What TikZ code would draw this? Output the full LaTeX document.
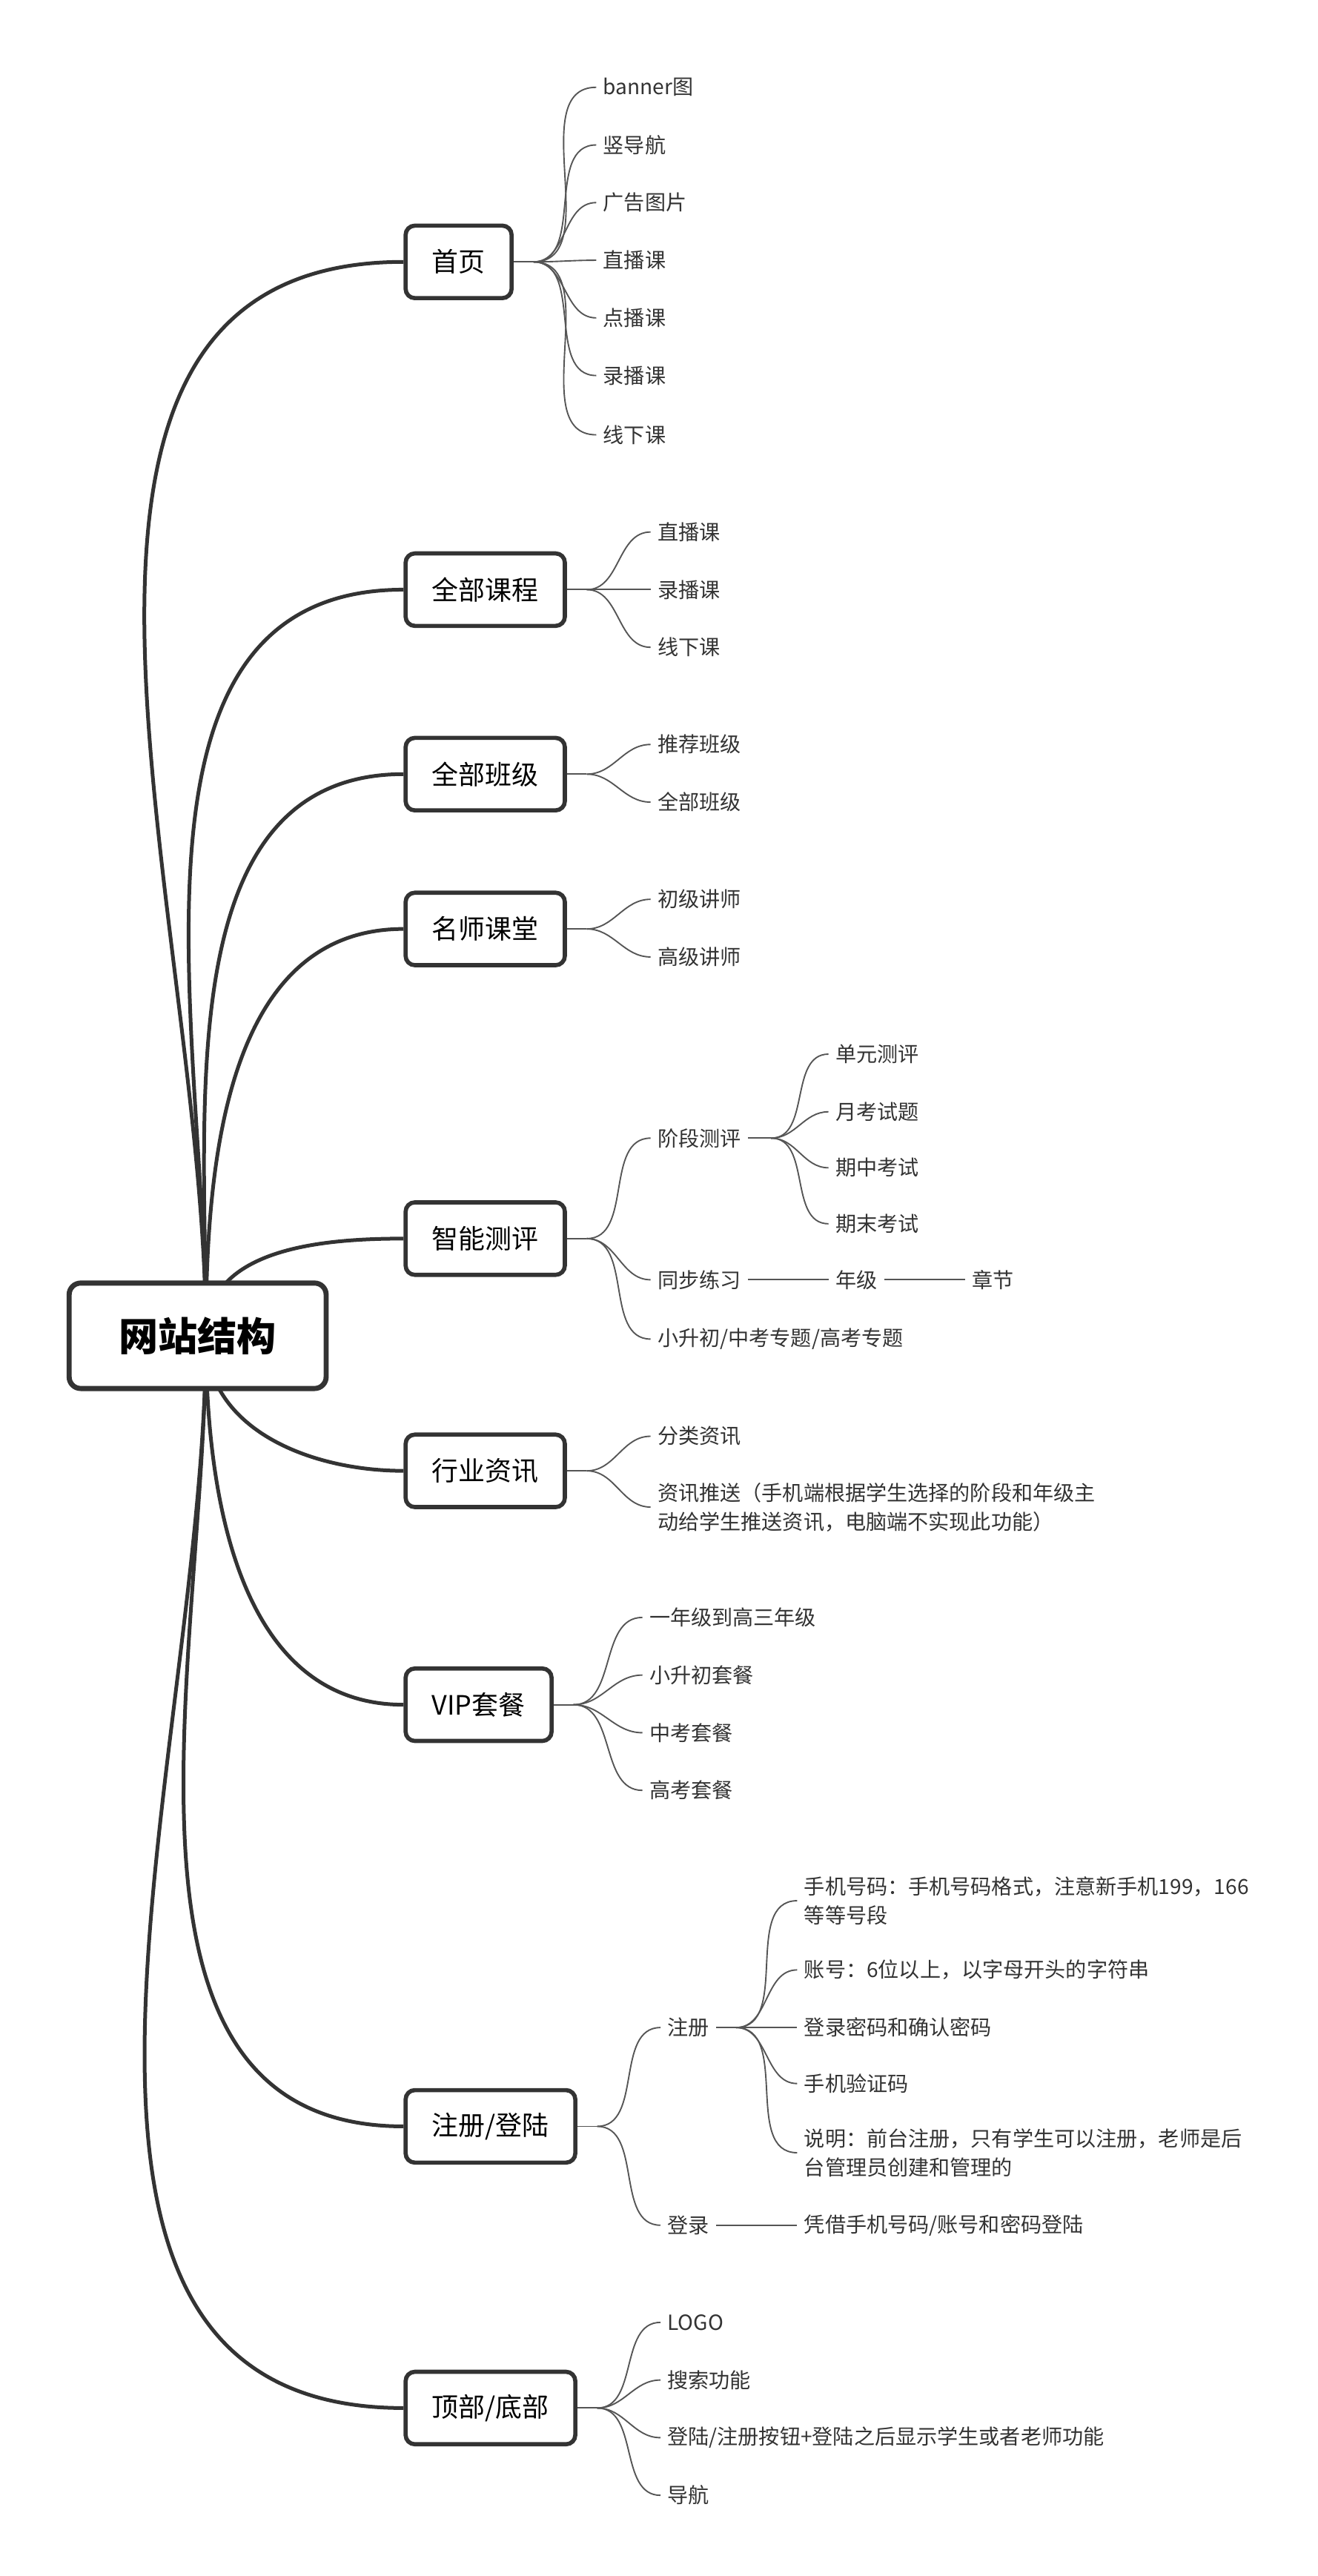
\documentclass[tikz,border=0pt]{standalone}
\usepackage{fontspec}
\setmainfont{Noto Sans CJK SC}
\usetikzlibrary{backgrounds}

\definecolor{ink}{HTML}{333333}
\definecolor{twig}{HTML}{555555}

\tikzset{
  root/.style={draw=ink, line width=2.2pt, rounded corners=5pt, fill=white,
    minimum width=3.9cm, minimum height=1.6cm, font=\fontsize{17}{20}\selectfont\bfseries},
  topic/.style={draw=ink, line width=1.8pt, rounded corners=4pt, fill=white, anchor=west,
    minimum height=1.1cm, inner xsep=0.4cm, font=\fontsize{11.5}{14}\selectfont},
  leaf/.style={anchor=west, inner sep=0.1cm, align=left, text=ink,
    font=\fontsize{9}{12.5}\selectfont},
  trunk/.style={draw=ink, line width=1.6pt},
  twig/.style={draw=twig, line width=0.6pt},
}

\begin{document}
\begin{tikzpicture}[x=0.025cm, y=-0.025cm]
    \useasboundingbox (0,0) rectangle (800,1564);

    % centre
    \node[root] (web) at (120,811) {网站结构};
    \coordinate (hub) at (125,811);

    % topics
    \node[topic] (home) at (245,159) {首页};
    \node[topic] (course) at (245,358) {全部课程};
    \node[topic] (klass) at (245,470) {全部班级};
    \node[topic] (teacher) at (245,564) {名师课堂};
    \node[topic] (test) at (245,752) {智能测评};
    \node[topic] (news) at (245,893) {行业资讯};
    \node[topic] (vip) at (245,1035) {VIP套餐};
    \node[topic] (reg) at (245,1291) {注册/登陆};
    \node[topic] (top) at (245,1462) {顶部/底部};

    % 首页
    \node[leaf] (h1) at (362,53) {banner图};
    \node[leaf] (h2) at (362,88) {竖导航};
    \node[leaf] (h3) at (362,123) {广告图片};
    \node[leaf] (h4) at (362,158) {直播课};
    \node[leaf] (h5) at (362,193) {点播课};
    \node[leaf] (h6) at (362,228) {录播课};
    \node[leaf] (h7) at (362,264) {线下课};

    % 全部课程
    \node[leaf] (c1) at (395,323) {直播课};
    \node[leaf] (c2) at (395,358) {录播课};
    \node[leaf] (c3) at (395,393) {线下课};

    % 全部班级
    \node[leaf] (k1) at (395,452) {推荐班级};
    \node[leaf] (k2) at (395,487) {全部班级};

    % 名师课堂
    \node[leaf] (t1) at (395,546) {初级讲师};
    \node[leaf] (t2) at (395,581) {高级讲师};

    % 智能测评
    \node[leaf] (s1) at (395,691) {阶段测评};
    \node[leaf] (s2) at (395,777) {同步练习};
    \node[leaf] (s3) at (395,813) {小升初/中考专题/高考专题};
    \node[leaf] (s11) at (503,640) {单元测评};
    \node[leaf] (s12) at (503,675) {月考试题};
    \node[leaf] (s13) at (503,709) {期中考试};
    \node[leaf] (s14) at (503,743) {期末考试};
    \node[leaf] (grade) at (503,777) {年级};
    \node[leaf] (chap) at (586,777) {章节};

    % 行业资讯
    \node[leaf] (n1) at (395,872) {分类资讯};
    \node[leaf] (n2) at (395,915) {资讯推送（手机端根据学生选择的阶段和年级主\\动给学生推送资讯，电脑端不实现此功能）};

    % VIP套餐
    \node[leaf] (v1) at (390,982) {一年级到高三年级};
    \node[leaf] (v2) at (390,1017) {小升初套餐};
    \node[leaf] (v3) at (390,1052) {中考套餐};
    \node[leaf] (v4) at (390,1087) {高考套餐};

    % 注册/登陆
    \node[leaf] (r1) at (401,1231) {注册};
    \node[leaf] (r2) at (401,1351) {登录};
    \node[leaf] (r11) at (484,1154) {手机号码：手机号码格式，注意新手机199，166\\等等号段};
    \node[leaf] (r12) at (484,1196) {账号：6位以上，以字母开头的字符串};
    \node[leaf] (r13) at (484,1231) {登录密码和确认密码};
    \node[leaf] (r14) at (484,1265) {手机验证码};
    \node[leaf] (r15) at (484,1307) {说明：前台注册，只有学生可以注册，老师是后\\台管理员创建和管理的};
    \node[leaf] (r21) at (484,1351) {凭借手机号码/账号和密码登陆};

    % 顶部/底部
    \node[leaf] (p1) at (401,1410) {LOGO};
    \node[leaf] (p2) at (401,1445) {搜索功能};
    \node[leaf] (p3) at (401,1480) {登陆/注册按钮+登陆之后显示学生或者老师功能};
    \node[leaf] (p4) at (401,1515) {导航};

    \begin{scope}[on background layer]
        % trunk lines
        \foreach \t in {home,course,klass,teacher,test}
            \draw[trunk] (hub) to[out=90,in=180] (\t.west);
        \foreach \t in {news,vip,reg,top}
            \draw[trunk] (hub) to[out=-90,in=180] (\t.west);

        % twigs
        \draw[twig] (home.east) -- ++(12,0) coordinate (hb);
        \foreach \l in {h1,h2,h3,h4,h5,h6,h7}
            \draw[twig] (hb) to[out=0,in=180] (\l.west);
        \draw[twig] (course.east) -- ++(12,0) coordinate (cb);
        \foreach \l in {c1,c2,c3}
            \draw[twig] (cb) to[out=0,in=180] (\l.west);
        \draw[twig] (klass.east) -- ++(12,0) coordinate (kb);
        \foreach \l in {k1,k2}
            \draw[twig] (kb) to[out=0,in=180] (\l.west);
        \draw[twig] (teacher.east) -- ++(12,0) coordinate (tb);
        \foreach \l in {t1,t2}
            \draw[twig] (tb) to[out=0,in=180] (\l.west);
        \draw[twig] (test.east) -- ++(12,0) coordinate (sb);
        \foreach \l in {s1,s2,s3}
            \draw[twig] (sb) to[out=0,in=180] (\l.west);
        \draw[twig] (s1.east) -- ++(14,0) coordinate (s1b);
        \foreach \l in {s11,s12,s13,s14}
            \draw[twig] (s1b) to[out=0,in=180] (\l.west);
        \draw[twig] (s2.east) -- (grade.west);
        \draw[twig] (grade.east) -- (chap.west);
        \draw[twig] (news.east) -- ++(12,0) coordinate (nb);
        \foreach \l in {n1,n2}
            \draw[twig] (nb) to[out=0,in=180] (\l.west);
        \draw[twig] (vip.east) -- ++(12,0) coordinate (vb);
        \foreach \l in {v1,v2,v3,v4}
            \draw[twig] (vb) to[out=0,in=180] (\l.west);
        \draw[twig] (reg.east) -- ++(12,0) coordinate (rb);
        \foreach \l in {r1,r2}
            \draw[twig] (rb) to[out=0,in=180] (\l.west);
        \draw[twig] (r1.east) -- ++(12,0) coordinate (r1b);
        \foreach \l in {r11,r12,r13,r14,r15}
            \draw[twig] (r1b) to[out=0,in=180] (\l.west);
        \draw[twig] (r2.east) -- (r21.west);
        \draw[twig] (top.east) -- ++(12,0) coordinate (pb);
        \foreach \l in {p1,p2,p3,p4}
            \draw[twig] (pb) to[out=0,in=180] (\l.west);
    \end{scope}
\end{tikzpicture}
\end{document}
